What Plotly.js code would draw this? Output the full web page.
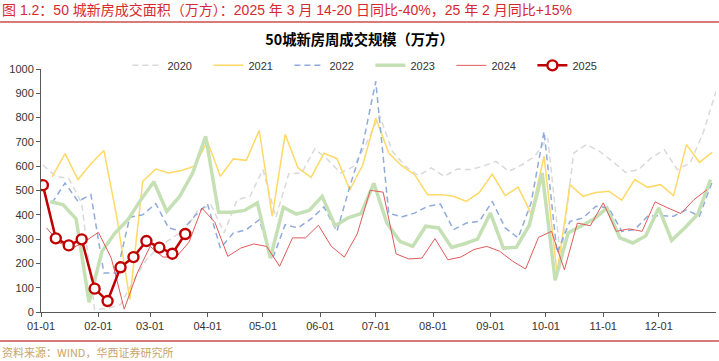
<!DOCTYPE html>
<html><head><meta charset="utf-8">
<script src="https://cdn.plot.ly/plotly-3.0.1.min.js"></script>
<style>html,body{margin:0;padding:0;background:#fff}#chart{width:719px;height:361px}</style>
</head><body><div id="chart"></div>
<script>
// ---- data (weekly new-home transaction area, 10k m², 50 cities) ----
const seriesNames = ['2020', '2021', '2022', '2023', '2024', '2025'];
// first week (mapped onto a common calendar year) of each series
const startDates = ['2021-01-02', '2021-01-07', '2021-01-07', '2021-01-06', '2021-01-04', '2021-01-02'];

const v2020 = [605, 558, 550, 449, 10, 15, 30, 130, 215, 270, 305, 340, 420, 440, 325, 462, 476, 586, 390, 569,
  572, 671, 627, 572, 599, 695, 810, 661, 600, 561, 593, 558, 588, 586, 600, 620, 579, 606, 641, 716,
  215, 654, 689, 661, 620, 575, 586, 634, 668, 586, 613, 737, 908];
const v2021 = [556, 652, 545, 610, 665, 390, 51, 538, 588, 572, 582, 600, 702, 558, 630, 624, 748, 394, 731, 593,
  554, 653, 631, 503, 606, 798, 654, 602, 565, 483, 483, 476, 455, 492, 567, 479, 514, 405, 641, 160,
  524, 476, 492, 497, 460, 545, 513, 524, 479, 689, 616, 658];
const v2022 = [449, 531, 455, 483, 160, 160, 390, 400, 446, 346, 332, 394, 445, 263, 325, 339, 380, 215, 359, 346,
  383, 432, 332, 517, 689, 949, 407, 391, 407, 435, 444, 339, 366, 373, 455, 346, 305, 449, 743, 243,
  373, 387, 435, 428, 332, 339, 394, 396, 394, 421, 394, 538];
const v2023 = [455, 441, 383, 40, 250, 325, 380, 462, 536, 414, 476, 572, 723, 410, 410, 418, 449, 222, 431, 403,
  418, 476, 355, 387, 405, 530, 366, 291, 270, 353, 346, 266, 281, 300, 407, 263, 266, 357, 572, 130,
  325, 353, 383, 428, 305, 284, 314, 428, 295, 346, 401, 545];
const v2024 = [346, 284, 263, 291, 328, 222, 12, 160, 270, 226, 226, 287, 428, 369, 229, 263, 280, 270, 188, 305,
  305, 357, 270, 226, 322, 501, 493, 239, 218, 222, 302, 215, 226, 257, 270, 250, 209, 177, 307, 332,
  174, 366, 355, 449, 332, 342, 332, 453, 428, 405, 462, 503];
const v2025 = [522, 303, 274, 299, 96, 45, 184, 226, 292, 265, 240, 321];

const xTickFormat = '%m-%d';
const chartTitle = '50城新房周成交规模（万方）';
const headerText = '图 1.2：50 城新房成交面积（万方）：2025 年 3 月 14-20 日同比-40%，25 年 2 月同比+15%';
const sourceText = '资料来源：WIND，华西证券研究所';

// ---- build ----
function weeklyDates(start, n) {
  const out = [];
  const d0 = new Date(start + 'T00:00:00Z').getTime();
  for (let i = 0; i < n; i++) out.push(new Date(d0 + i * 7 * 86400000).toISOString().slice(0, 10));
  return out;
}
const values = [v2020, v2021, v2022, v2023, v2024, v2025];
const styles = [
  {color: '#d9d9d9', width: 1.5, dash: '6px,4px'},
  {color: '#ffd966', width: 1.5, dash: 'solid'},
  {color: '#8faadc', width: 1.5, dash: '6px,4px'},
  {color: '#c5e0b4', width: 3.5, dash: 'solid'},
  {color: '#e05a5a', width: 1, dash: 'solid'},
  {color: '#c00000', width: 2.5, dash: 'solid'}
];
const traces = values.map((v, i) => {
  const t = {
    type: 'scatter', mode: 'lines', name: seriesNames[i],
    x: weeklyDates(startDates[i], v.length), y: v,
    line: styles[i]
  };
  if (seriesNames[i] === '2025') {
    t.mode = 'lines+markers';
    t.marker = {symbol: 'circle', size: 10, color: '#ffffff', line: {color: '#c00000', width: 2.4}};
  }
  return t;
});

const fontMain = 'Liberation Sans, Arial, Noto Sans CJK SC, sans-serif';
const layout = {
  width: 719, height: 361,
  margin: {l: 41, r: 3, t: 69, b: 49, pad: 0},
  paper_bgcolor: '#ffffff', plot_bgcolor: '#ffffff',
  font: {family: fontMain, size: 11, color: '#333333'},
  showlegend: true,
  legend: {orientation: 'h', x: 0.128, xanchor: 'left', y: 1.015, yanchor: 'middle',
    font: {size: 11, color: '#333333'}, entrywidth: 36, entrywidthmode: 'pixels',
    bgcolor: 'rgba(0,0,0,0)', tracegroupgap: 0, itemwidth: 30},
  xaxis: {type: 'date', range: ['2021-01-01', '2021-12-31 23:00'], tickformat: xTickFormat,
    dtick: 'M1', tick0: '2021-01-01', showgrid: false, zeroline: false,
    showline: true, linecolor: '#595959', linewidth: 1, ticks: 'outside', ticklen: 4, tickcolor: '#595959',
    tickfont: {size: 11, color: '#333333'}, fixedrange: true},
  yaxis: {range: [0, 1000], dtick: 100, showgrid: false, zeroline: false,
    showline: true, linecolor: '#595959', linewidth: 1, ticks: 'outside', ticklen: 4, tickcolor: '#595959',
    tickfont: {size: 11, color: '#333333'}, fixedrange: true},
  title: {text: '<b>' + chartTitle + '</b>', x: 0.5, xref: 'container', xanchor: 'center', y: 0.889, yanchor: 'middle', yref: 'container',
    font: {family: 'Noto Sans CJK SC, sans-serif', size: 14.3, color: '#000000'}},
  annotations: [
    {text: headerText, xref: 'paper', yref: 'paper', x: -0.0607, xanchor: 'left', y: 1.243, yanchor: 'middle',
      showarrow: false, font: {family: 'Liberation Sans, Noto Sans CJK SC, sans-serif', size: 14, color: '#d7282f'}},
    {text: sourceText, xref: 'paper', yref: 'paper', x: -0.0607, xanchor: 'left', y: -0.165, yanchor: 'middle',
      showarrow: false, font: {family: 'Noto Sans CJK SC, sans-serif', size: 11, color: '#c8a46a'}}
  ],
  shapes: [
    {type: 'line', xref: 'paper', yref: 'paper', x0: -0.0607, x1: 1.0044, y0: 1.193, y1: 1.193,
      line: {color: '#d97a7a', width: 2}},
    {type: 'line', xref: 'paper', yref: 'paper', x0: -0.0607, x1: 1.0044, y0: -0.119, y1: -0.119,
      line: {color: '#d97a7a', width: 2}}
  ]
};
Plotly.newPlot('chart', traces, layout, {displayModeBar: false, staticPlot: true});
</script>
</body></html>
